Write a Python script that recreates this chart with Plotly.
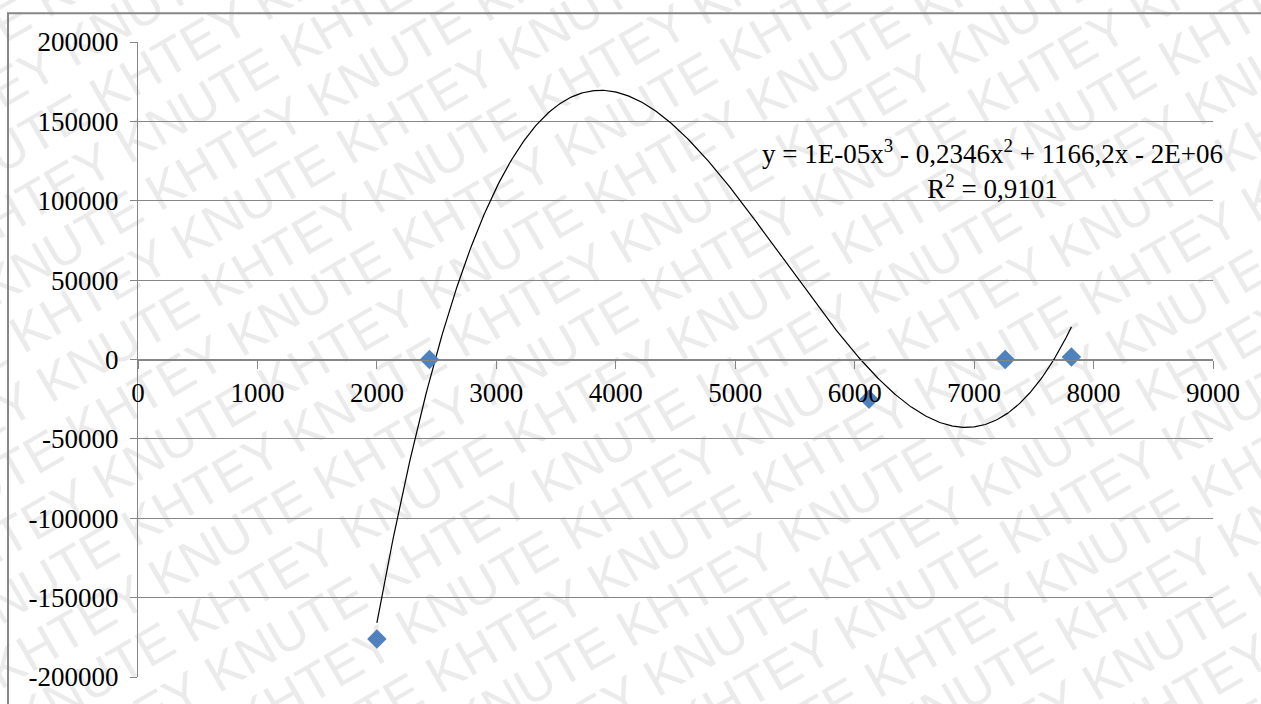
import math
import numpy as np
import plotly.graph_objects as go

# ---------------- data ----------------
x_vals = [2000, 2440, 6120, 7260, 7815]
y_vals = [-176000, 0, -25000, 0, 1500]

x_tickvals = [0, 1000, 2000, 3000, 4000, 5000, 6000, 7000, 8000, 9000]
x_ticktext = ["0", "1000", "2000", "3000", "4000", "5000", "6000", "7000", "8000", "9000"]
y_tickvals = [-200000, -150000, -100000, -50000, 0, 50000, 100000, 150000, 200000]
y_ticktext = ["-200000", "-150000", "-100000", "-50000", "0", "50000", "100000", "150000", "200000"]

eq_text = "y = 1E-05x<sup>3</sup> - 0,2346x<sup>2</sup> + 1166,2x - 2E+06<br>R<sup>2</sup> = 0,9101"
watermark_words = ["KHTEY", "KNUTE"]

# ---------------- geometry ----------------
W, H = 1261, 704
ML, MR, MT, MB = 138, 48, 42, 24
PW, PH = W - ML - MR, H - MT - MB


def px2paper(px, py):
    return (px - ML) / PW, (H - MB - py) / PH


# cubic trendline (least squares, like Excel's polynomial trendline)
coef = np.polyfit(x_vals, y_vals, 3)
xs = np.linspace(min(x_vals), max(x_vals), 500)
ys = np.polyval(coef, xs)

fig = go.Figure()
fig.add_trace(go.Scatter(x=xs, y=ys, mode="lines",
                         line=dict(color="#000000", width=1.2),
                         hoverinfo="skip", showlegend=False))
fig.add_trace(go.Scatter(x=x_vals, y=y_vals, mode="markers",
                         marker=dict(symbol="diamond", size=15, color="#4F81BD",
                                     line=dict(width=0)),
                         showlegend=False))

shapes = []
# outer chart frame
fx0, fy1 = px2paper(8, 13)
fx1, fy0 = px2paper(1300, 760)
shapes.append(dict(type="rect", xref="paper", yref="paper", x0=fx0, y0=fy0, x1=fx1, y1=fy1,
                   line=dict(color="#878787", width=2), fillcolor="rgba(0,0,0,0)", layer="above"))

# watermark rows
theta = math.radians(30)
ux, uy = math.cos(theta), -math.sin(theta)
nx, ny = math.sin(theta), math.cos(theta)
WF = 52
P = 7.28 * WF
S = 56
Ax, Ay = 278, 246
Cx, Cy = 630, 352
m = 8
words = []
for i in range(-m, m + 1):
    words.append(watermark_words[i % 2])
row_text = " ".join(words)
for k in range(-10, 20):
    bx, by = Ax + k * S * nx, Ay + k * S * ny
    t = k * P / 2
    proj = (bx - Cx) * ux + (by - Cy) * uy + t
    j = round(proj / P)
    t -= j * P
    cx, cy = bx + t * ux, by + t * uy
    x0, y0 = px2paper(cx - 5 * ux, cy - 5 * uy)
    x1, y1 = px2paper(cx + 5 * ux, cy + 5 * uy)
    shapes.append(dict(type="line", xref="paper", yref="paper", x0=x0, y0=y0, x1=x1, y1=y1,
                       line=dict(color="rgba(0,0,0,0)", width=0), layer="below",
                       label=dict(text=row_text, textangle=-30, textposition="middle",
                                  xanchor="center", yanchor="middle", padding=0,
                                  font=dict(family="Liberation Sans", size=WF, color="#ebebeb"))))

ex, ey = px2paper(992, 170)
serif = "Liberation Serif"
fig.update_layout(
    width=W, height=H,
    margin=dict(l=ML, r=MR, t=MT, b=MB),
    paper_bgcolor="white", plot_bgcolor="rgba(0,0,0,0)",
    font=dict(family=serif, size=27, color="#000000"),
    shapes=shapes,
    annotations=[dict(text=eq_text, xref="paper", yref="paper", x=ex, y=ey,
                      xanchor="center", yanchor="middle", align="center", showarrow=False,
                      font=dict(family=serif, size=27, color="#000000"))],
    xaxis=dict(range=[0, 9000], tickvals=x_tickvals, ticktext=x_ticktext,
               showgrid=False, zeroline=False, showline=True, linecolor="#868686", linewidth=1,
               ticks="outside", ticklen=8, tickcolor="#868686", tickwidth=1,
               anchor="free", position=0.5, ticklabelstandoff=1,
               tickfont=dict(family=serif, size=27, color="#000000")),
    yaxis=dict(range=[-200000, 200000], tickvals=y_tickvals, ticktext=y_ticktext,
               showgrid=True, gridcolor="#868686", gridwidth=1, zeroline=False,
               showline=True, linecolor="#868686", linewidth=1,
               ticks="outside", ticklen=7, tickcolor="#868686", tickwidth=1,
               ticklabelstandoff=6,
               tickfont=dict(family=serif, size=27, color="#000000")),
)

fig.write_html("out.html")
